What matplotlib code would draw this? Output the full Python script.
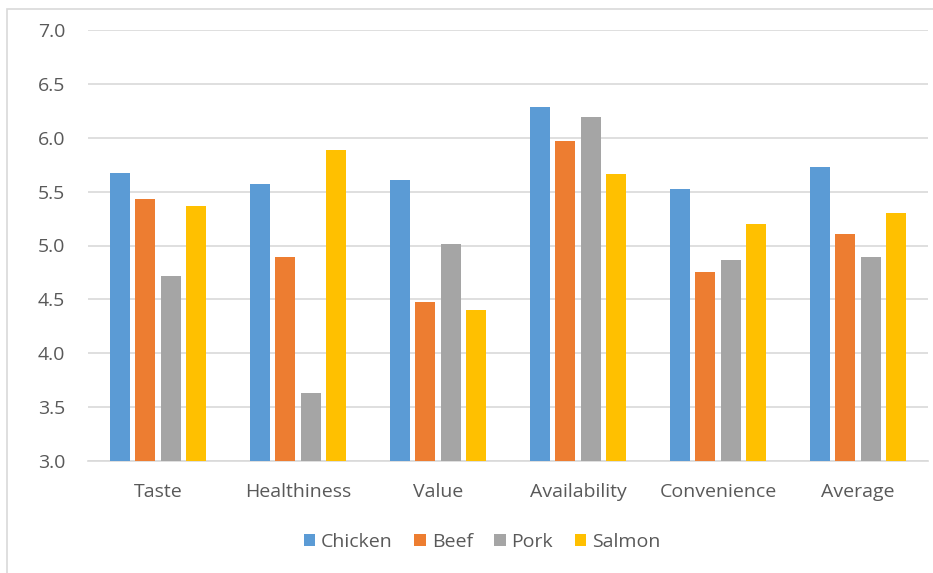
import numpy as np
import matplotlib.pyplot as plt
from matplotlib.patches import Rectangle

categories = ['Taste', 'Healthiness', 'Value', 'Availability', 'Convenience', 'Average']
series = ['Chicken', 'Beef', 'Pork', 'Salmon']
chicken = [5.67, 5.57, 5.61, 6.29, 5.52, 5.73]
beef = [5.43, 4.89, 4.48, 5.97, 4.75, 5.11]
pork = [4.72, 3.63, 5.01, 6.19, 4.87, 4.89]
salmon = [5.37, 5.89, 4.40, 5.66, 5.20, 5.30]
colors = ['#5B9BD5', '#ED7D31', '#A5A5A5', '#FFC000']

plt.rcParams['font.family'] = ['Open Sans', 'DejaVu Sans']
txt = '#595959'
fs = 14

fig = plt.figure(figsize=(9.33, 5.73), dpi=100)
fig.patches.append(Rectangle((7 / 933, -0.05), 1.0, (573 - 9) / 573 + 0.05,
                             transform=fig.transFigure, fill=False,
                             edgecolor='#D9D9D9', linewidth=1.2))
ax = fig.add_axes([88 / 933, (573 - 461) / 573, 840 / 933, 431 / 573])

x = np.arange(len(categories))
w = 0.145
step = 0.182
data = [chicken, beef, pork, salmon]
for i in range(4):
    ax.bar(x + (i - 1.5) * step, data[i], w, bottom=0, color=colors[i],
           label=series[i], zorder=3)

ax.set_ylim(3.0, 7.0)
ax.set_xlim(-0.5, len(categories) - 0.5)
ax.set_yticks(np.arange(3.0, 7.01, 0.5))
ax.set_yticklabels(['%.1f' % v for v in np.arange(3.0, 7.01, 0.5)])
ax.set_xticks(x)
ax.set_xticklabels(categories)
ax.yaxis.grid(True, color='#D9D9D9', linewidth=1.2, zorder=0)
for s in ['top', 'right', 'left']:
    ax.spines[s].set_visible(False)
ax.spines['bottom'].set_color('#D9D9D9')
ax.spines['bottom'].set_linewidth(1.2)
ax.tick_params(axis='both', length=0, labelsize=fs, colors=txt)
ax.tick_params(axis='y', pad=16.5)
ax.tick_params(axis='x', pad=16)

leg = fig.legend(loc='center', bbox_to_anchor=(482 / 933, (573 - 542) / 573), ncol=4,
                 frameon=False, fontsize=fs, handlelength=0.6, handleheight=0.6,
                 handletextpad=0.3, columnspacing=1.1)
for t in leg.get_texts():
    t.set_color(txt)

fig.savefig('out.png', dpi=100)
